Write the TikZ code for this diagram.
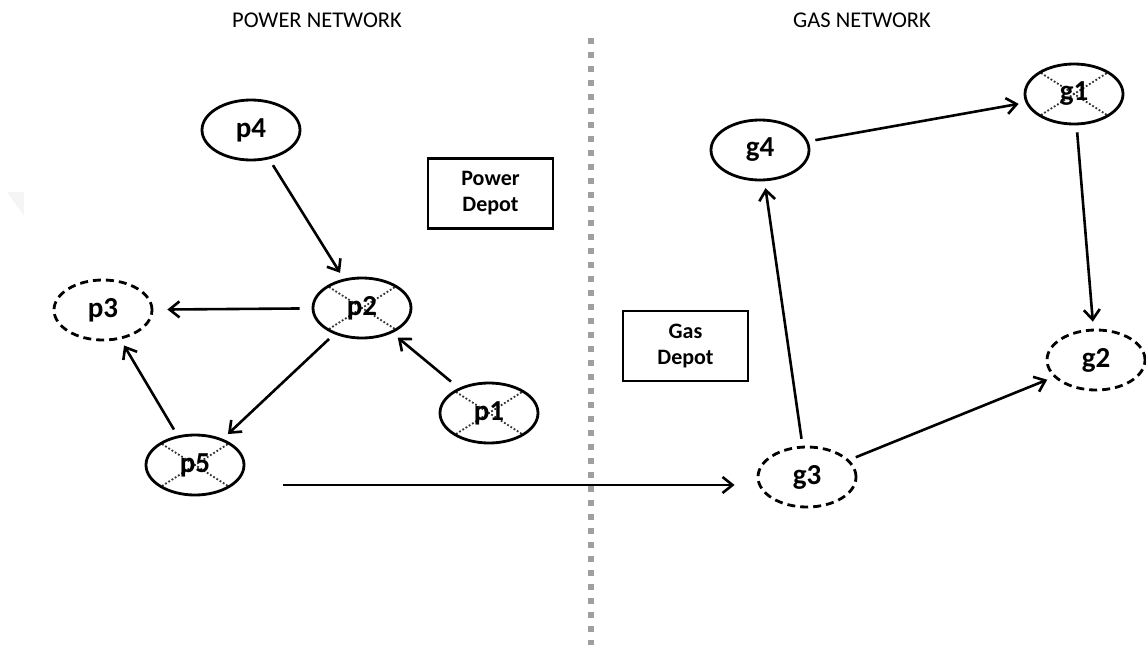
\documentclass[tikz,border=0pt]{standalone}
\usepackage{fontspec}
\setmainfont{Carlito}
\usetikzlibrary{shapes.geometric,arrows.meta,calc}
\tikzset{
  nd/.style={ellipse, draw, line width=2.8pt, minimum width=98pt, minimum height=60pt, inner sep=0pt,
    font=\fontsize{29}{29}\selectfont\bfseries},
  ndash/.style={nd, dash pattern=on 8pt off 5pt},
  crossed/.style={path picture={
    \draw[xline] ([shift={(-33pt,-21pt)}]path picture bounding box.center) -- ([shift={(33pt,21pt)}]path picture bounding box.center);
    \draw[xline] ([shift={(-33pt,21pt)}]path picture bounding box.center) -- ([shift={(33pt,-21pt)}]path picture bounding box.center);
  }},
  depot/.style={rectangle, draw, line width=2.8pt, minimum width=125pt, minimum height=70pt,
    align=center, font=\fontsize{22}{26}\selectfont\bfseries},
  ttl/.style={font=\fontsize{22.5}{22}\selectfont},
  arr/.style={line width=2.6pt, -{Straight Barb[length=10pt,width=16pt]}, shorten <=7pt, shorten >=7pt},
  xline/.style={dotted, line width=1.8pt, black!80},
}
\begin{document}
\begin{tikzpicture}[x=1pt,y=-1pt]
\useasboundingbox (0,0) rectangle (1146,645);
% faint artifact
\fill[gray!8] (7,192) -- (24,192) -- (24,216) -- cycle;
% titles
\node[ttl] (tp) at (317,20) {POWER NETWORK};
\node[ttl] (tg) at (862,20) {GAS NETWORK};
% divider
\coordinate (dtop) at (591,38);
\coordinate (dbot) at (591,645);
\draw[gray!75, line width=6pt, dash pattern=on 6pt off 8pt] (dtop) -- (dbot);
% power nodes
\node[nd] (p4) at (251,130) {p4};
\node[nd, crossed] (p2) at (362,308) {p2};
\node[ndash] (p3) at (103,310) {p3};
\node[nd, crossed] (p1) at (489,413) {p1};
\node[nd, crossed] (p5) at (195,465) {p5};
\node[depot] (pd) at (490.5,193.5) {Power\\Depot};
% gas nodes
\node[nd] (g4) at (760,150) {g4};
\node[nd, crossed] (g1) at (1074,94) {g1};
\node[ndash] (g2) at (1096,360) {g2};
\node[ndash] (g3) at (807,477) {g3};
\node[depot] (gd) at (685.5,346) {Gas\\Depot};
% arrows
\draw[arr] (p4) -- (p2);
\draw[arr, shorten <=12pt, shorten >=14pt] (p2) -- (p3);
\draw[arr] (p2) -- (p5);
\draw[arr, shorten <=10pt] (p1) -- (p2);
\draw[arr] (p5) -- (p3);
\draw[arr, shorten <=0pt, shorten >=0pt] ([xshift=38pt,yshift=-20pt]p5.east) -- ([xshift=-22pt,yshift=-8pt]g3.west);
\draw[arr] (g4) -- (g1);
\draw[arr] (g1) -- (g2);
\draw[arr] (g3) -- (g2);
\draw[arr] (g3) -- (g4);
\end{tikzpicture}
\end{document}
